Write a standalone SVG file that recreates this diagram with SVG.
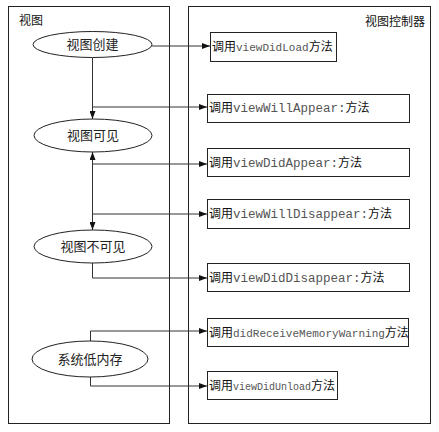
<svg xmlns="http://www.w3.org/2000/svg" width="439" height="432" viewBox="0 0 439 432">
<style>
.panel{fill:#fff;stroke:#222;stroke-width:1}
.box{fill:#fff;stroke:#222;stroke-width:1}
.ell{fill:#fff;stroke:#222;stroke-width:1}
.zh{font-family:"Noto Sans CJK SC","Liberation Sans",sans-serif;font-size:12px;fill:#111}
.et{font-family:"Noto Sans CJK SC","Liberation Sans",sans-serif;font-size:13px;fill:#222;text-anchor:middle}
.mono{font-family:"Liberation Mono",monospace;fill:#555}
.con{fill:none;stroke:#333;stroke-width:1}
</style>
<defs>
<marker id="ah" viewBox="0 0 8 6" refX="8" refY="3" markerWidth="8" markerHeight="6" markerUnits="userSpaceOnUse" orient="auto-start-reverse">
<path d="M0,0 L8,3 L0,6 z" fill="#111"/>
</marker>
</defs>
<rect x="0" y="0" width="439" height="432" fill="#fff"/>
<g id="panel-view">
<rect class="panel" x="8.5" y="6.5" width="161" height="417"/>
<text class="zh" x="19" y="25">视图</text>
</g>
<g id="panel-controller">
<rect class="panel" x="188.5" y="6.5" width="242" height="417"/>
<text class="zh" x="425" y="26" text-anchor="end">视图控制器</text>
</g>
<g id="connectors">
<line class="con" x1="152" y1="46" x2="210" y2="46" marker-end="url(#ah)"/>
<line class="con" x1="92.5" y1="57.5" x2="92.5" y2="119" marker-end="url(#ah)"/>
<line class="con" x1="92.5" y1="107" x2="207" y2="107" marker-end="url(#ah)"/>
<line class="con" x1="92.5" y1="152" x2="92.5" y2="230" marker-start="url(#ah)" marker-end="url(#ah)"/>
<line class="con" x1="92.5" y1="164" x2="207" y2="164" marker-end="url(#ah)"/>
<line class="con" x1="92.5" y1="214" x2="207" y2="214" marker-end="url(#ah)"/>
<polyline class="con" points="92.5,263 92.5,278 207,278" marker-end="url(#ah)"/>
<polyline class="con" points="90.5,341 90.5,331 207,331" marker-end="url(#ah)"/>
<polyline class="con" points="90.5,377 90.5,386 207,386" marker-end="url(#ah)"/>
</g>
<g id="e-create">
<ellipse class="ell" cx="92.5" cy="44.5" rx="59.5" ry="13"/>
<text class="et" x="92.5" y="49">视图创建</text>
</g>
<g id="e-visible">
<ellipse class="ell" cx="93" cy="135.5" rx="59" ry="16.5"/>
<text class="et" x="93" y="140">视图可见</text>
</g>
<g id="e-invisible">
<ellipse class="ell" cx="93" cy="246.5" rx="59" ry="16.5"/>
<text class="et" x="93" y="251">视图不可见</text>
</g>
<g id="e-lowmem">
<ellipse class="ell" cx="90" cy="359" rx="58" ry="18"/>
<text class="et" x="90" y="363.5">系统低内存</text>
</g>
<g id="b-load">
<rect class="box" x="210.5" y="32.5" width="126" height="29"/>
<text class="zh" x="212" y="51">调用<tspan class="mono" font-size="11">viewDidLoad</tspan>方法</text>
</g>
<g id="b-willappear">
<rect class="box" x="207.5" y="94.5" width="202" height="28"/>
<text class="zh" x="209" y="112">调用<tspan class="mono" font-size="12.5">viewWillAppear:</tspan>方法</text>
</g>
<g id="b-didappear">
<rect class="box" x="207.5" y="148.5" width="202" height="28"/>
<text class="zh" x="209" y="167">调用<tspan class="mono" font-size="12.5">viewDidAppear:</tspan>方法</text>
</g>
<g id="b-willdisappear">
<rect class="box" x="207.5" y="199.5" width="202" height="29"/>
<text class="zh" x="209" y="218">调用<tspan class="mono" font-size="12.5">viewWillDisappear:</tspan>方法</text>
</g>
<g id="b-diddisappear">
<rect class="box" x="207.5" y="263.5" width="202" height="28"/>
<text class="zh" x="209" y="282">调用<tspan class="mono" font-size="12.5">viewDidDisappear:</tspan>方法</text>
</g>
<g id="b-memwarning">
<rect class="box" x="207.5" y="318.5" width="201" height="28"/>
<text class="zh" x="209" y="337">调用<tspan class="mono" font-size="11">didReceiveMemoryWarning</tspan>方法</text>
</g>
<g id="b-unload">
<rect class="box" x="207.5" y="371.5" width="130" height="28"/>
<text class="zh" x="209" y="390">调用<tspan class="mono" font-size="10">viewDidUnload</tspan>方法</text>
</g>
</svg>
